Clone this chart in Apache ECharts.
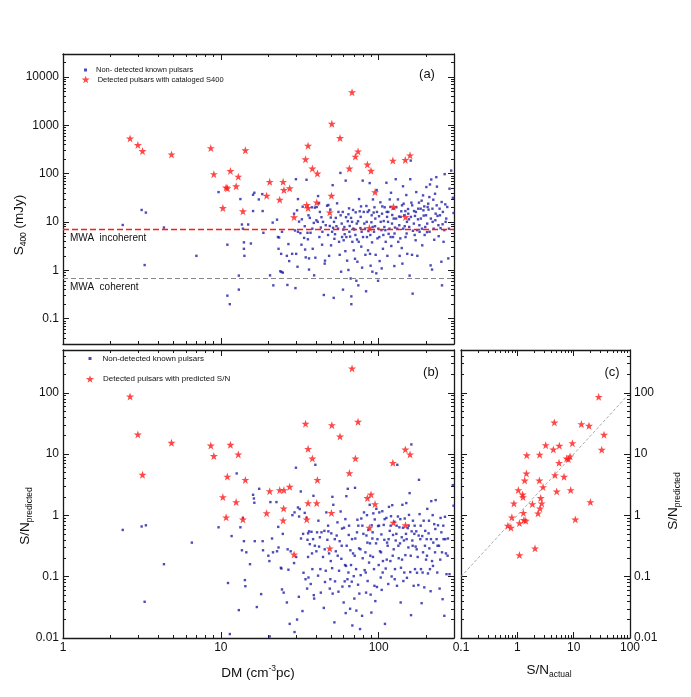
<!DOCTYPE html>
<html><head><meta charset="utf-8">
<script src="https://cdn.jsdelivr.net/npm/echarts@6/dist/echarts.min.js"></script>
<style>html,body{margin:0;padding:0;background:#fff}#c{width:691px;height:697px}</style>
</head><body><div id="c"></div>
<script>
// ---------- DATA ----------
// Panel (a): DM (cm^-3 pc) vs S400 (mJy)
const aNonDetected = [
[2.39,8.7],[3.15,17.8],[3.35,15.7],[3.29,1.29],[4.36,7.7],[7.0,2.0],[9.67,41.7],[11.0,3.4],[11.0,0.30],[11.4,0.20],
[13.0,0.40],[13.0,0.78],[13.3,29.9],[13.6,8.9],[14.0,3.8],[14.0,2.8],[14.1,2.0],[13.8,7.3],[14.9,8.9],[15.5,3.6],
[16.0,36.7],[16.0,16.9],[16.3,40.4],[17.4,29.4],[18.3,37.9],[18.4,16.9],[18.6,6.0],[20.5,0.79],[21.3,9.75],[21.5,0.49],
[22.7,11.2],[23.0,4.9],[23.2,2.8],[23.4,4.8],[23.8,0.96],[24.2,0.93],[24.4,6.3],[24.1,2.2],[24.7,0.90],[26.4,0.50],
[26.2,2.0],[26.8,3.5],[27.1,1.56],[28.3,2.2],[29.1,14.9],[29.5,6.7],[29.7,0.43],[29.9,77],[30.0,2.2],[30.6,1.19],
[30.8,29.9],[30.8,6.3],[31.3,10.2],[31.9,5.9],[32.4,3.4],[33.0,20.8],[34.0,8.2],[34.2,2.7],[34.5,1.86],[34.9,75],
[35.4,6.0],[35.6,4.4],[35.9,13.8],[36.2,1.77],[36.2,1.04],[36.6,12.2],[37.7,20.2],[38.0,7.3],[38.2,2.8],[39.0,0.79],
[39.4,19.9],[39.7,1.83],[40.3,10.9],[40.5,20.5],[41.1,10.1],[41.3,34.5],[41.9,24.4],[42.1,4.9],[43.0,7.7],[43.4,12.6],
[43.8,3.4],[44.4,10.1],[44.9,0.31],[45.5,1.38],[45.7,1.59],[47.1,21.8],[48.0,22.5],[48.5,2.0],[49.0,8.3],[49.7,12.4],
[49.9,3.3],[51.1,58],[51.4,7.6],[51.9,0.27],[52.1,10.1],[52.4,4.5],[52.9,5.6],[54.0,8.2],[54.5,24.4],[55.6,16.2],
[56.6,2.1],[57.2,104],[57.4,13.8],[57.8,0.94],[58.6,4.9],[59.4,0.40],[59.7,7.0],[60.0,4.2],[60.9,5.6],[61.5,2.5],
[61.8,72],[62.1,12.6],[63.1,1.59],[64.3,14.5],[64.3,1.02],[64.9,19.2],[65.5,8.3],[65.9,5.0],[66.5,0.68],[67.1,0.29],
[67.1,0.20],[67.8,10.1],[68.8,17.8],[69.5,2.6],[70.1,7.0],[70.8,1.74],[71.5,15.9],[72.2,0.61],[72.9,4.35],[73.3,1.51],
[74.0,10.4],[74.3,0.49],[75.1,29.9],[75.8,16.7],[76.6,7.5],[77.3,21.1],[77.6,3.1],[78.5,1.14],[79.2,72],[79.6,4.9],
[81.1,9.3],[82.4,2.1],[83.2,0.37],[83.6,21.5],[84.3,4.9],[85.1,16.2],[86.1,6.5],[87.7,64],[88.1,2.2],[88.9,1.25],
[89.9,9.9],[90.8,3.8],[91.2,0.94],[92.0,29.4],[92.9,15.7],[94.0,20.2],[94.8,8.2],[95.7,2.1],[96.6,0.87],[97.1,46],
[98.2,4.6],[99.1,0.61],[100.5,13.2],[101.4,1.56],[102.5,25.6],[104.0,6.8],[104.5,1.10],[105.4,21.1],[106.4,2.8],[107.6,10.5],
[109.1,20.2],[110.2,6.8],[111.9,65],[112.5,16.2],[113.5,2.0],[114.6,10.1],[115.6,5.7],[117.5,29.4],[118.6,20.5],[119.7,40.4],
[120.2,3.2],[121.9,14.0],[123.3,4.9],[124.5,11.8],[125.6,1.23],[126.8,7.7],[128.2,77],[129.4,20.2],[131.2,7.3],[132.4,29.4],
[134.6,13.0],[135.8,2.0],[137.1,4.6],[139.0,16.7],[140.0,2.9],[141.3,1.38],[142.6,55],[143.9,24.0],[146.2,8.2],[147.6,16.9],
[149.6,36.2],[150.3,5.8],[151.7,2.2],[153.5,18.6],[155.6,11.4],[157.0,0.78],[158.5,77],[159.6,187],[161.1,25.2],[162.6,2.1],
[164.1,0.33],[164.8,6.6],[167.5,16.9],[169.8,13.4],[171.4,4.2],[173.0,41.7],[175.8,2.0],[177.4,11.4],[179.9,25.2],[181.6,6.3],
[184.5,18.9],[187.1,27.7],[188.8,3.3],[191.0,35.6],[192.8,13.6],[194.5,21.1],[197.2,7.9],[200.4,53],[202.3,6.2],[204.2,20.5],
[207.0,18.1],[209.4,32.9],[211.3,60],[213.3,1.27],[215.3,76],[217.8,1.04],[219.8,10.1],[221.8,29.0],[224.9,4.3],[227.5,38.5],
[229.6,14.9],[231.7,85],[233.9,54],[236.0,13.4],[239.9,5.1],[243.2,18.9],[246.6,7.5],[249.5,1.51],[251.8,0.49],[254.1,9.0],
[257.6,3.9],[261.8,98],[264.2,23.2],[267.9,11.8],[276,1.77],[281,49],[288,116],[295,31.8],[298,15.4],
[30.4,17.5],[32.6,11.4],[33.7,4.7],[37.0,6.0],[38.8,9.6],[42.4,16.2],[44.0,6.3],[46.2,8.6],[47.8,5.4],[49.4,18.1],
[50.7,6.3],[53.5,12.2],[55.3,7.3],[56.1,3.9],[58.3,9.3],[59.2,16.2],[60.6,7.9],[62.4,4.9],[63.7,10.4],[65.2,6.3],
[66.8,12.2],[68.1,3.9],[69.1,7.3],[71.2,5.4],[72.6,9.3],[74.7,3.9],[76.9,12.8],[78.0,6.3],[80.4,16.2],[82.0,7.3],
[84.0,10.1],[85.6,2.6],[86.9,17.5],[88.5,5.4],[90.3,13.8],[91.6,7.9],[93.4,6.3],[95.2,11.8],[97.5,16.2],[99.5,7.3],
[100.9,4.9],[103,10.1],[105,14.9],[107,5.4],[108.6,7.9],[110.8,3.9],[113,12.8],[115,16.2],[117,7.3],[119,4.9],
[121.4,9.3],[124,18.9],[126,5.8],[128.8,11.8],[133,3.9],[135,8.6],[137.8,12.8],[140.6,22.2],[143,7.3],[145,13.8],
[148,4.9],[151,10.1],[154,14.9],[156,7.9],[160,12.8],[163,22.2],[167,9.3],[169,5.4],[172,16.2],[175,6.8],
[178,18.9],[181,8.6],[185,11.8],[188,7.3],[192,17.5],[195.5,5.4],[199.5,13.8],[203,9.3],[206,24],[210,6.3],
[214,11.8],[219,18.9],[223,7.3],[228.5,10.9],[233,22.2],[239,8.6],[244.5,13.8],[250.5,26],[255,16.2],[260.5,6.8],
[265.5,10.1],[272,20.5],[278.6,7.3]
];
const aDetected = [
[2.66,537],[2.98,393],[3.19,295],[4.87,251],[8.64,339],[9.03,98],[10.3,19.5],[10.8,52],[11.0,50],[11.5,114],
[12.5,55],[12.9,87],[13.8,16.7],[14.3,305],[19.5,35],[20.4,68],[23.6,29],[24.8,68],[25.1,46],[27.3,50],
[29.1,12.6],[34.4,199],[35.0,22.5],[35.7,19.5],[35.7,380],[38.0,128],[40.5,25.5],[40.9,101],[49.0,15.9],[50.2,35],
[50.5,1080],[56.9,548],[65.2,128],[67.8,4840],[71.2,226],[74.0,290],[84.8,155],[87.3,7.6],[89.4,115],[94.8,41.7],
[123,187],[124,20.8],[147.5,193],[148,12.7],[158,240]
];
// Panel (b): DM vs predicted S/N
const bNonDetected = [
[2.39,0.58],[3.15,0.66],[3.35,0.69],[3.29,0.039],[4.36,0.16],[6.55,0.36],[9.67,0.64],[11.1,0.079],[11.4,0.0116],[11.7,0.46],
[12.6,4.84],[13.0,0.0285],[13.3,0.64],[13.6,0.27],[13.8,0.91],[14.0,0.38],[14.2,0.088],[14.3,0.070],[14.5,0.25],[15.3,0.16],
[16.0,2.17],[16.2,1.89],[16.3,1.61],[16.4,0.38],[16.9,0.032],[17.5,2.72],[18.0,0.052],[18.4,0.38],[18.5,0.27],[20.0,0.22],
[20.3,0.18],[20.4,0.0106],[20.6,1.65],[21.1,0.42],[21.4,0.25],[22.5,1.65],[22.7,0.26],[23.1,0.65],[23.2,0.30],[24.0,0.14],
[24.2,0.136],[24.4,0.062],[24.7,0.50],[25.0,0.055],[26.2,0.038],[26.5,0.28],[26.8,0.13],[27.3,0.017],[27.7,0.26],[28.4,1.01],
[29.1,0.167],[29.3,1.12],[29.3,0.0125],[29.9,6.0],[30.0,0.21],[30.4,0.020],[30.8,1.35],[31.2,0.047],[31.3,0.96],[31.6,1.27],
[32.1,2.46],[32.2,0.42],[32.9,0.0275],[33.2,0.50],[33.4,0.116],[34.0,1.10],[34.4,0.091],[34.9,0.92],[35.2,0.064],[35.4,0.40],
[35.7,0.51],[35.9,0.097],[36.2,0.55],[36.6,0.34],[37.1,0.076],[37.5,0.54],[37.8,0.24],[38.0,0.133],[38.6,2.09],[38.8,0.050],
[39.0,0.044],[39.4,0.32],[39.7,6.7],[40.3,0.26],[40.7,0.53],[41.3,0.104],[41.9,0.31],[42.4,0.44],[43.0,0.055],[43.4,0.53],
[44.4,0.21],[44.9,0.031],[45.3,0.56],[45.7,0.082],[46.2,0.125],[46.6,1.12],[47.3,0.40],[48.0,0.55],[48.5,0.24],[49.0,0.064],
[49.7,0.18],[50.1,0.51],[50.7,0.138],[50.9,2.01],[51.1,0.053],[51.6,1.49],[52.4,0.018],[52.9,0.084],[53.5,0.26],[54.2,0.47],
[54.8,0.77],[55.6,0.057],[56.1,0.125],[56.6,0.38],[57.4,1.16],[58.0,0.196],[58.6,0.61],[58.9,0.069],[60.0,0.038],[60.3,0.63],
[60.9,0.084],[61.2,0.155],[61.8,0.0255],[62.1,0.15],[62.4,2.06],[62.7,0.32],[63.7,2.72],[64.3,0.117],[64.6,0.48],[65.2,0.070],
[65.9,0.030],[66.2,0.27],[66.8,0.155],[67.5,0.083],[68.1,0.016],[68.8,0.24],[69.5,0.102],[70.1,0.044],[70.8,2.82],[71.1,0.42],
[71.9,0.133],[72.2,0.028],[73.3,0.85],[74.0,0.074],[74.3,0.68],[75.1,0.29],[75.4,0.053],[76.2,0.014],[76.9,0.106],[77.6,0.89],
[78.5,0.023],[79.2,0.20],[80.0,0.50],[80.7,1.12],[81.5,0.128],[82.4,0.25],[83.2,0.055],[83.6,0.47],[84.3,1.01],[85.1,0.085],
[86.1,0.58],[86.9,0.17],[87.7,1.49],[88.1,0.35],[88.9,0.051],[89.9,0.026],[90.3,0.69],[91.2,0.42],[92.0,0.21],[92.5,1.08],
[93.4,0.133],[94.4,0.86],[95.2,0.040],[96.2,0.35],[96.6,1.28],[97.5,0.068],[99.1,0.67],[100,0.155],[100.9,1.12],[101.9,0.26],
[103,0.097],[104.0,0.49],[104.5,0.061],[105.4,1.17],[106.4,0.18],[107.6,0.70],[108.6,0.40],[109.6,0.017],[110.8,0.136],[111.9,0.91],
[113,0.36],[114,0.32],[115,0.076],[116.2,1.38],[117.5,0.56],[118.6,0.18],[119.7,0.97],[120.8,0.101],[121.9,1.47],[123.3,0.48],
[124.5,0.28],[125.6,0.79],[126.8,0.133],[128.2,0.39],[129.4,0.50],[130.6,0.071],[131.2,6.7],[132.4,0.96],[133.9,0.20],[135.2,0.64],
[136.5,0.35],[137.8,0.038],[138.4,0.14],[140.0,0.44],[141.3,1.49],[142.6,0.63],[143.3,0.085],[144.5,0.39],[146.2,0.89],[147.6,0.225],
[148.9,0.50],[149.6,1.59],[151,0.096],[152.8,0.62],[154.2,0.30],[155.6,1.02],[157.0,2.31],[158.5,0.119],[160.3,0.0236],[161.1,14.4],
[161.8,0.55],[163.3,0.39],[164.8,0.82],[166.6,0.071],[168.2,0.50],[169.8,0.133],[171.4,0.31],[173.0,0.55],[174.9,0.116],[176.6,0.21],
[178.3,0.073],[179.9,3.81],[181.6,1.05],[183.5,0.41],[185.3,0.133],[187.1,0.037],[188.8,0.46],[191.0,0.25],[192.8,0.82],[194.5,0.067],
[197.2,0.56],[199.5,0.19],[201.4,0.41],[203.2,1.28],[205.2,0.113],[207.0,0.51],[209.4,0.29],[211.3,0.133],[213.3,0.058],[215.3,1.71],
[217.8,0.18],[219.8,1.01],[221.8,0.36],[224.9,0.72],[227.5,0.25],[229.6,1.78],[232.8,0.41],[235,0.117],[237.6,0.69],[241,0.32],
[243.2,0.064],[246.6,0.91],[249.5,0.53],[251.8,0.25],[254.1,0.043],[257.6,0.41],[260.5,0.023],[263,0.95],[266.7,0.24],[269,0.11],
[274.6,0.42],[281,0.11],[295,3.12],[298,1.44],
[35.7,0.21],[38.4,0.41],[41.5,0.82],[42.7,0.133],[45.5,0.28],[47.8,0.68],[49.4,0.091],[52.7,0.41],[55.0,0.22],[58.3,0.32],
[61.5,0.87],[63.4,0.091],[64.9,0.68],[67.8,0.41],[70.5,0.22],[72.9,0.53],[76.6,0.28],[78.8,0.68],[82.8,0.117],[84.8,0.36],
[88.5,0.22],[91.6,0.53],[94.0,0.071],[98.2,0.41],[100.5,0.68],[103.5,0.25],[106,0.117],[109.1,0.87],[112.5,0.19],[115.6,0.41],
[119.1,0.68],[122.7,0.22],[126.3,0.091],[130,0.68],[133.2,0.32],[137.1,0.87],[140.6,0.19],[145.3,0.117],[150.3,0.41],[154.9,0.68],
[159.6,0.22],[164.1,0.32],[169,0.68],[174.1,0.28],[179.1,0.47],[184.5,0.68],[189.8,0.117],[196.4,0.32],[202.3,0.22],[208.2,0.82],
[214.4,0.41],[220.8,0.15],[228.5,0.60],[236,0.32],[245.5,0.19],[256.6,0.68],[264.2,0.41],[273.3,0.22]
];
const bDetected = [
[2.66,87],[2.98,20.9],[3.19,4.6],[4.87,15.3],[8.64,13.8],[9.03,9.3],[10.3,1.99],[10.8,0.93],[11.0,4.3],[11.5,14.2],
[12.5,1.65],[12.9,9.9],[13.8,0.86],[14.3,3.8],[19.5,1.09],[20.4,2.49],[23.6,2.59],[25.1,2.59],[25.0,1.30],[24.8,0.83],
[27.3,2.93],[29.1,0.23],[34.4,31.3],[35.0,0.86],[35.7,1.59],[35.7,12.2],[38.0,8.5],[40.5,1.59],[40.9,3.8],[49.0,0.29],
[50.2,1.10],[50.5,29.7],[56.9,19.4],[65.2,4.9],[67.8,250],[71.2,8.5],[74.0,33.7],[84.8,1.92],[87.3,0.63],[89.4,2.2],
[94.8,1.53],[123,7.2],[124,0.76],[147.5,11.9],[148,0.69],[158,9.9]
];
// Panel (c): actual S/N vs predicted S/N
const cDetected = [
[27.8,86],[4.54,32.9],[13.7,30.9],[18.7,29.0],[34.6,20.7],[3.19,14.0],[5.57,13.7],[9.49,15.1],[4.36,11.9],[31.5,11.8],
[1.47,9.6],[2.49,9.8],[7.52,8.5],[8.05,8.3],[8.62,9.2],[5.50,7.2],[1.45,4.84],[4.67,4.55],[6.75,4.27],[1.35,3.72],
[2.46,3.72],[2.86,2.90],[1.04,2.59],[5.0,2.46],[8.85,2.59],[1.24,2.2],[1.26,1.99],[2.60,1.92],[0.87,1.57],[1.85,1.53],
[2.71,1.57],[19.8,1.65],[2.53,1.30],[1.28,1.10],[2.33,1.08],[0.80,0.93],[1.31,0.84],[1.41,0.82],[10.7,0.86],[1.09,0.75],
[0.68,0.68],[0.77,0.63],[2.06,0.29],[1.09,0.225]
];
const oneToOne = [[0.1,0.1],[85,85]];
const mwaIncoherent = 7;
const mwaCoherent = 0.7;
const dmRange = [1, 300];
const s400Range = [0.03, 30000];
const snRange = [0.01, 500];
const snActualRange = [0.1, 100];

// ---------- STYLE ----------
const STAR = 'path://M50,2 L61.8,36.2 L97.6,36.2 L68.6,57.4 L79.6,91.6 L50,70.4 L20.4,91.6 L31.4,57.4 L2.4,36.2 L38.2,36.2 Z';
const FONT = '"Liberation Sans", Arial, sans-serif';
const AX = '#1a1a1a';
const BLUE = '#1e1ea8';
const RED = '#ff1a1a';
const fmt = v => { const l = Math.log10(v); return Math.abs(l - Math.round(l)) < 1e-6 ? String(+(+v).toPrecision(6)) : ''; };

function logAxis(gridIndex, pos, range, showLabel) {
  return {
    type: 'log', logBase: 10, gridIndex, position: pos, min: range[0], max: range[1],
    axisLine: {show: true, onZero: false, lineStyle: {color: AX, width: 1.3}},
    axisTick: {show: true, inside: true, length: 6, lineStyle: {color: AX, width: 1}},
    minorTick: {show: true, splitNumber: 9, length: 3, lineStyle: {color: AX, width: 1}},
    splitLine: {show: false}, minorSplitLine: {show: false},
    axisLabel: showLabel
      ? {show: true, formatter: fmt, fontFamily: FONT, fontSize: 12, color: '#111', margin: 4}
      : {show: false}
  };
}
const nameRich = {
  m: {fontSize: 13.5, fontFamily: FONT, fill: '#111', color: '#111'},
  s: {fontSize: 8.5, fontFamily: FONT, fill: '#111', color: '#111', padding: [9, 0, 0, 0]},
  p: {fontSize: 8.5, fontFamily: FONT, fill: '#111', color: '#111', padding: [0, 0, 8, 0]}
};
function title(text, x, y, rot) {
  return {type: 'text', x, y, rotation: rot || 0, silent: true,
    style: {text, rich: nameRich, fontSize: 13.5, fontFamily: FONT, fill: '#111',
            align: 'center', verticalAlign: 'middle', textAlign: 'center', textVerticalAlign: 'middle'}};
}
function panelTag(text, x, y) {
  return {type: 'text', x, y, silent: true,
    style: {text, fontSize: 13, fontFamily: FONT, fill: '#111', align: 'center', verticalAlign: 'middle', textAlign: 'center', textVerticalAlign: 'middle'}};
}

const chart = echarts.init(document.getElementById('c'));
const option = {
  animation: false,
  backgroundColor: '#fff',
  grid: [
    {left: 63, top: 54, width: 391, height: 290},
    {left: 63, top: 350, width: 391, height: 288},
    {left: 461, top: 350, width: 169, height: 288}
  ],
  xAxis: [
    logAxis(0, 'bottom', dmRange, false),
    logAxis(0, 'top', dmRange, false),
    logAxis(1, 'bottom', dmRange, true),
    logAxis(1, 'top', dmRange, false),
    logAxis(2, 'bottom', snActualRange, true),
    logAxis(2, 'top', snActualRange, false)
  ],
  yAxis: [
    logAxis(0, 'left', s400Range, true),
    logAxis(0, 'right', s400Range, false),
    logAxis(1, 'left', snRange, true),
    logAxis(1, 'right', snRange, false),
    logAxis(2, 'left', snRange, false),
    logAxis(2, 'right', snRange, true)
  ],
  legend: [
    {data: [{name: 'Non- detected known pulsars', icon: 'rect'}], left: 84, top: 66, padding: 0,
     itemWidth: 3, itemHeight: 3, selectedMode: false,
     textStyle: {fontFamily: FONT, fontSize: 7.5, color: '#111', padding: [0, 0, 0, 4]}},
    {data: [{name: 'Detected pulsars with cataloged S400', icon: STAR}], left: 81.7, top: 75.5, padding: 0,
     itemWidth: 8, itemHeight: 8, selectedMode: false,
     textStyle: {fontFamily: FONT, fontSize: 7.5, color: '#111', padding: [0, 0, 0, 3]}},
    {data: [{name: 'Non-detected known pulsars', icon: 'rect'}], left: 88.5, top: 354.5, padding: 0,
     itemWidth: 3, itemHeight: 3, selectedMode: false,
     textStyle: {fontFamily: FONT, fontSize: 8, color: '#111', padding: [0, 0, 0, 6]}},
    {data: [{name: 'Detected pulsars with predicted S/N', icon: STAR}], left: 86, top: 375, padding: 0,
     itemWidth: 8, itemHeight: 8, selectedMode: false,
     textStyle: {fontFamily: FONT, fontSize: 8, color: '#111', padding: [0, 0, 0, 4]}}
  ],
  graphic: [
    panelTag('(a)', 427, 74),
    panelTag('(b)', 431, 372),
    panelTag('(c)', 612, 372),
    title('{m|S}{s|400}{m| (mJy)}', 19, 225, Math.PI / 2),
    title('{m|S/N}{s|predicted}', 25, 516, Math.PI / 2),
    title('{m|S/N}{s|predicted}', 673, 501, Math.PI / 2),
    title('{m|DM (cm}{p|-3}{m|pc)}', 258, 673, 0),
    title('{m|S/N}{s|actual}', 549, 670, 0)
  ],
  series: [
    {type: 'scatter', name: 'Non- detected known pulsars', xAxisIndex: 0, yAxisIndex: 0, data: aNonDetected,
     symbol: 'rect', symbolSize: 2.4, itemStyle: {color: BLUE}, z: 2, silent: true,
     markLine: {silent: true, symbol: 'none', animation: false,
       label: {show: true, position: 'insideStartBottom', fontFamily: FONT, fontSize: 10, color: '#111', distance: [7, 4]},
       data: [
         {yAxis: mwaIncoherent, lineStyle: {color: RED, type: [6, 3], width: 1.3}, label: {formatter: 'MWA  incoherent'}},
         {yAxis: mwaCoherent, lineStyle: {color: '#888', type: [5, 3], width: 1.2}, label: {formatter: 'MWA  coherent'}}
       ]}},
    {type: 'scatter', name: 'Detected pulsars with cataloged S400', xAxisIndex: 0, yAxisIndex: 0, data: aDetected,
     symbol: STAR, symbolSize: 8, itemStyle: {color: RED}, z: 3, silent: true},
    {type: 'scatter', name: 'Non-detected known pulsars', xAxisIndex: 2, yAxisIndex: 2, data: bNonDetected,
     symbol: 'rect', symbolSize: 2.4, itemStyle: {color: BLUE}, z: 2, silent: true},
    {type: 'scatter', name: 'Detected pulsars with predicted S/N', xAxisIndex: 2, yAxisIndex: 2, data: bDetected,
     symbol: STAR, symbolSize: 8, itemStyle: {color: RED}, z: 3, silent: true},
    {type: 'line', name: 'one-to-one', xAxisIndex: 4, yAxisIndex: 4, data: oneToOne, symbol: 'none',
     lineStyle: {color: '#aaa', type: [3, 2], width: 1}, z: 2, silent: true},
    {type: 'scatter', name: 'S/N comparison', xAxisIndex: 4, yAxisIndex: 4, data: cDetected,
     symbol: STAR, symbolSize: 8, itemStyle: {color: RED}, z: 3, silent: true}
  ]
};
chart.setOption(option);
</script>
</body></html>
